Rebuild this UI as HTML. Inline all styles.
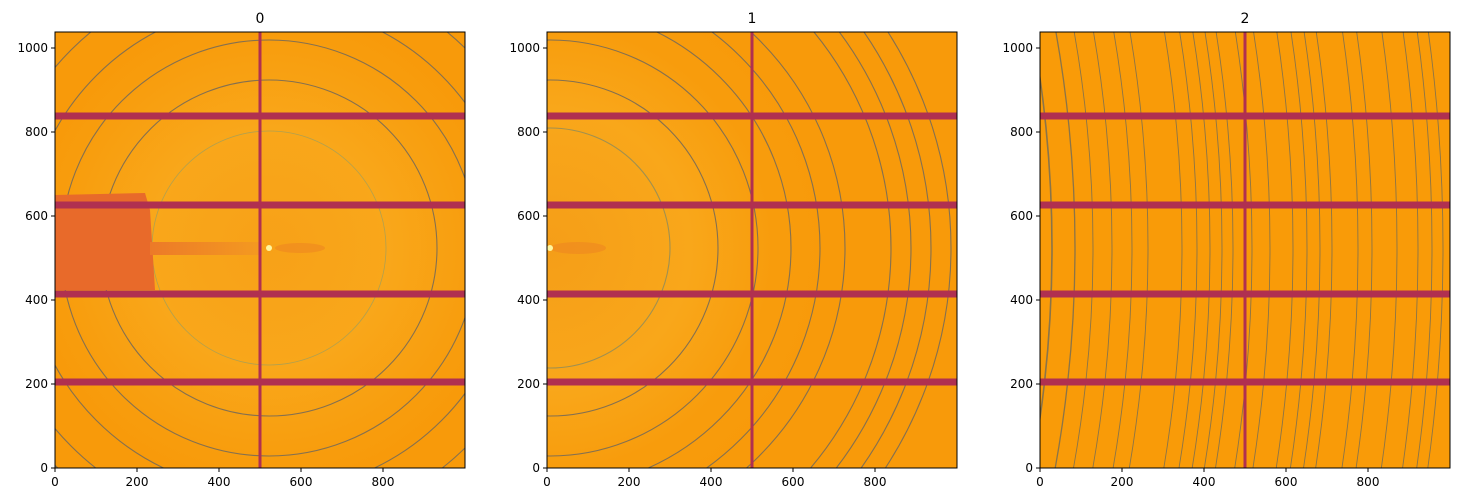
<!DOCTYPE html>
<html><head><meta charset="utf-8"><style>
html,body{margin:0;padding:0;background:#fff;overflow:hidden;width:1459px;height:502px}
svg{display:block}
svg text{font-family:"DejaVu Sans","Liberation Sans",sans-serif;font-size:12px;fill:#000}
</style></head><body>
<svg width="1459" height="502" viewBox="0 0 1459 502" xmlns="http://www.w3.org/2000/svg">
<defs>
<clipPath id="c0"><rect x="55" y="32" width="410" height="436"/></clipPath>
<clipPath id="c1"><rect x="547" y="32" width="410" height="436"/></clipPath>
<clipPath id="c2"><rect x="1040" y="32" width="410" height="436"/></clipPath>
<radialGradient id="g0" cx="269" cy="248" r="240" gradientUnits="userSpaceOnUse">
<stop offset="0" stop-color="#f7a118"/><stop offset="0.5" stop-color="#f9a71a"/><stop offset="0.9" stop-color="#f89c0c"/><stop offset="1" stop-color="#f89a0a"/></radialGradient>
<radialGradient id="g1" cx="550" cy="248" r="280" gradientUnits="userSpaceOnUse">
<stop offset="0" stop-color="#f59e18"/><stop offset="0.5" stop-color="#f9a71a"/><stop offset="0.8" stop-color="#f89c0c"/><stop offset="1" stop-color="#f89a0a"/></radialGradient>
<linearGradient id="st" x1="0" x2="1"><stop offset="0" stop-color="#ec7a28"/><stop offset="1" stop-color="#f49a20"/></linearGradient>
</defs>

<g clip-path="url(#c0)">
<rect x="55" y="32" width="410" height="436" fill="#f89a0a"/>
<circle cx="269" cy="248" r="240" fill="url(#g0)"/>
<g fill="none" stroke="#847050" stroke-width="1.1">
<circle cx="269" cy="248" r="117" stroke="#b0a050" stroke-width="0.8"/>
<circle cx="269" cy="248" r="168"/>
<circle cx="269" cy="248" r="208"/>
<circle cx="269" cy="248" r="244"/>
<circle cx="269" cy="248" r="280"/>
<circle cx="269" cy="248" r="305"/>
</g>
<polygon points="55,195 145,193 150,210 155,290 55,290" fill="#e86a2a"/>
<rect x="150" y="242" width="112" height="13" fill="url(#st)"/>
<ellipse cx="300" cy="248" rx="25" ry="5" fill="#f08a20" opacity="0.7"/>
<circle cx="269" cy="248" r="3" fill="#fff6a0"/>
<g fill="#b03050">
<rect x="55" y="112.5" width="410" height="7"/>
<rect x="55" y="201.5" width="410" height="7"/>
<rect x="55" y="290.5" width="410" height="7"/>
<rect x="55" y="378.5" width="410" height="7"/>
<rect x="258.5" y="32" width="3" height="436"/>
</g>
</g>
<rect x="55" y="32" width="410" height="436" fill="none" stroke="#000" stroke-width="1"/>

<g clip-path="url(#c1)">
<rect x="547" y="32" width="410" height="436" fill="#f89a0a"/>
<circle cx="550" cy="248" r="280" fill="url(#g1)"/>
<ellipse cx="578" cy="248" rx="28" ry="6" fill="#f08a20" opacity="0.7"/>
<circle cx="550" cy="248" r="3" fill="#fff6a0"/>
<g fill="none" stroke="#847050" stroke-width="1.1">
<circle cx="550" cy="248" r="120" stroke="#a09050"/>
<circle cx="550" cy="248" r="168"/>
<circle cx="550" cy="248" r="208"/>
<circle cx="550" cy="248" r="241"/>
<circle cx="550" cy="248" r="270"/>
<circle cx="550" cy="248" r="295"/>
<circle cx="550" cy="248" r="341"/>
<circle cx="550" cy="248" r="361"/>
<circle cx="550" cy="248" r="381"/>
<circle cx="550" cy="248" r="401"/>
</g>
<g fill="#b03050">
<rect x="547" y="112.5" width="410" height="7"/>
<rect x="547" y="201.5" width="410" height="7"/>
<rect x="547" y="290.5" width="410" height="7"/>
<rect x="547" y="378.5" width="410" height="7"/>
<rect x="750.5" y="32" width="3" height="436"/>
</g>
</g>
<rect x="547" y="32" width="410" height="436" fill="none" stroke="#000" stroke-width="1"/>

<g clip-path="url(#c2)">
<rect x="1040" y="32" width="410" height="436" fill="#f99b08"/>
<g fill="none" stroke="#8a7448" stroke-width="0.9">
<circle cx="-158" cy="248" r="1210" stroke-width="1.6"/>
<circle cx="-158" cy="248" r="1233" stroke-width="1.3"/>
<circle cx="-158" cy="248" r="1251"/>
<circle cx="-158" cy="248" r="1270"/>
<circle cx="-158" cy="248" r="1290"/>
<circle cx="-158" cy="248" r="1306"/>
<circle cx="-158" cy="248" r="1340"/>
<circle cx="-158" cy="248" r="1355"/>
<circle cx="-158" cy="248" r="1368"/>
<circle cx="-158" cy="248" r="1380"/>
<circle cx="-158" cy="248" r="1391"/>
<circle cx="-158" cy="248" r="1410"/>
<circle cx="-158" cy="248" r="1428"/>
<circle cx="-158" cy="248" r="1451"/>
<circle cx="-158" cy="248" r="1465"/>
<circle cx="-158" cy="248" r="1478"/>
<circle cx="-158" cy="248" r="1490"/>
<circle cx="-158" cy="248" r="1516"/>
<circle cx="-158" cy="248" r="1530"/>
<circle cx="-158" cy="248" r="1555"/>
<circle cx="-158" cy="248" r="1576"/>
<circle cx="-158" cy="248" r="1590"/>
<circle cx="-158" cy="248" r="1601"/>
</g>
<g fill="#b03050">
<rect x="1040" y="112.5" width="410" height="7"/>
<rect x="1040" y="201.5" width="410" height="7"/>
<rect x="1040" y="290.5" width="410" height="7"/>
<rect x="1040" y="378.5" width="410" height="7"/>
<rect x="1243.5" y="32" width="3" height="436"/>
</g>
</g>
<rect x="1040" y="32" width="410" height="436" fill="none" stroke="#000" stroke-width="1"/>

<text x="260" y="23" text-anchor="middle" style="font-size:14px">0</text>
<text x="752" y="23" text-anchor="middle" style="font-size:14px">1</text>
<text x="1245" y="23" text-anchor="middle" style="font-size:14px">2</text>

<g stroke="#000" stroke-width="1">
<path d="M55,468v4M137,468v4M219,468v4M301,468v4M383,468v4"/>
<path d="M547,468v4M629,468v4M711,468v4M793,468v4M875,468v4"/>
<path d="M1040,468v4M1122,468v4M1204,468v4M1286,468v4M1368,468v4"/>
<path d="M55,468h-4M55,384h-4M55,300h-4M55,216h-4M55,132h-4M55,48h-4"/>
<path d="M547,468h-4M547,384h-4M547,300h-4M547,216h-4M547,132h-4M547,48h-4"/>
<path d="M1040,468h-4M1040,384h-4M1040,300h-4M1040,216h-4M1040,132h-4M1040,48h-4"/>
</g>
<g text-anchor="middle">
<text x="55" y="486">0</text><text x="137" y="486">200</text><text x="219" y="486">400</text><text x="301" y="486">600</text><text x="383" y="486">800</text>
<text x="547" y="486">0</text><text x="629" y="486">200</text><text x="711" y="486">400</text><text x="793" y="486">600</text><text x="875" y="486">800</text>
<text x="1040" y="486">0</text><text x="1122" y="486">200</text><text x="1204" y="486">400</text><text x="1286" y="486">600</text><text x="1368" y="486">800</text>
</g>
<g text-anchor="end">
<text x="48" y="472">0</text><text x="48" y="388">200</text><text x="48" y="304">400</text><text x="48" y="220">600</text><text x="48" y="136">800</text><text x="48" y="52">1000</text>
<text x="540" y="472">0</text><text x="540" y="388">200</text><text x="540" y="304">400</text><text x="540" y="220">600</text><text x="540" y="136">800</text><text x="540" y="52">1000</text>
<text x="1033" y="472">0</text><text x="1033" y="388">200</text><text x="1033" y="304">400</text><text x="1033" y="220">600</text><text x="1033" y="136">800</text><text x="1033" y="52">1000</text>
</g>
</svg>
</body></html>
